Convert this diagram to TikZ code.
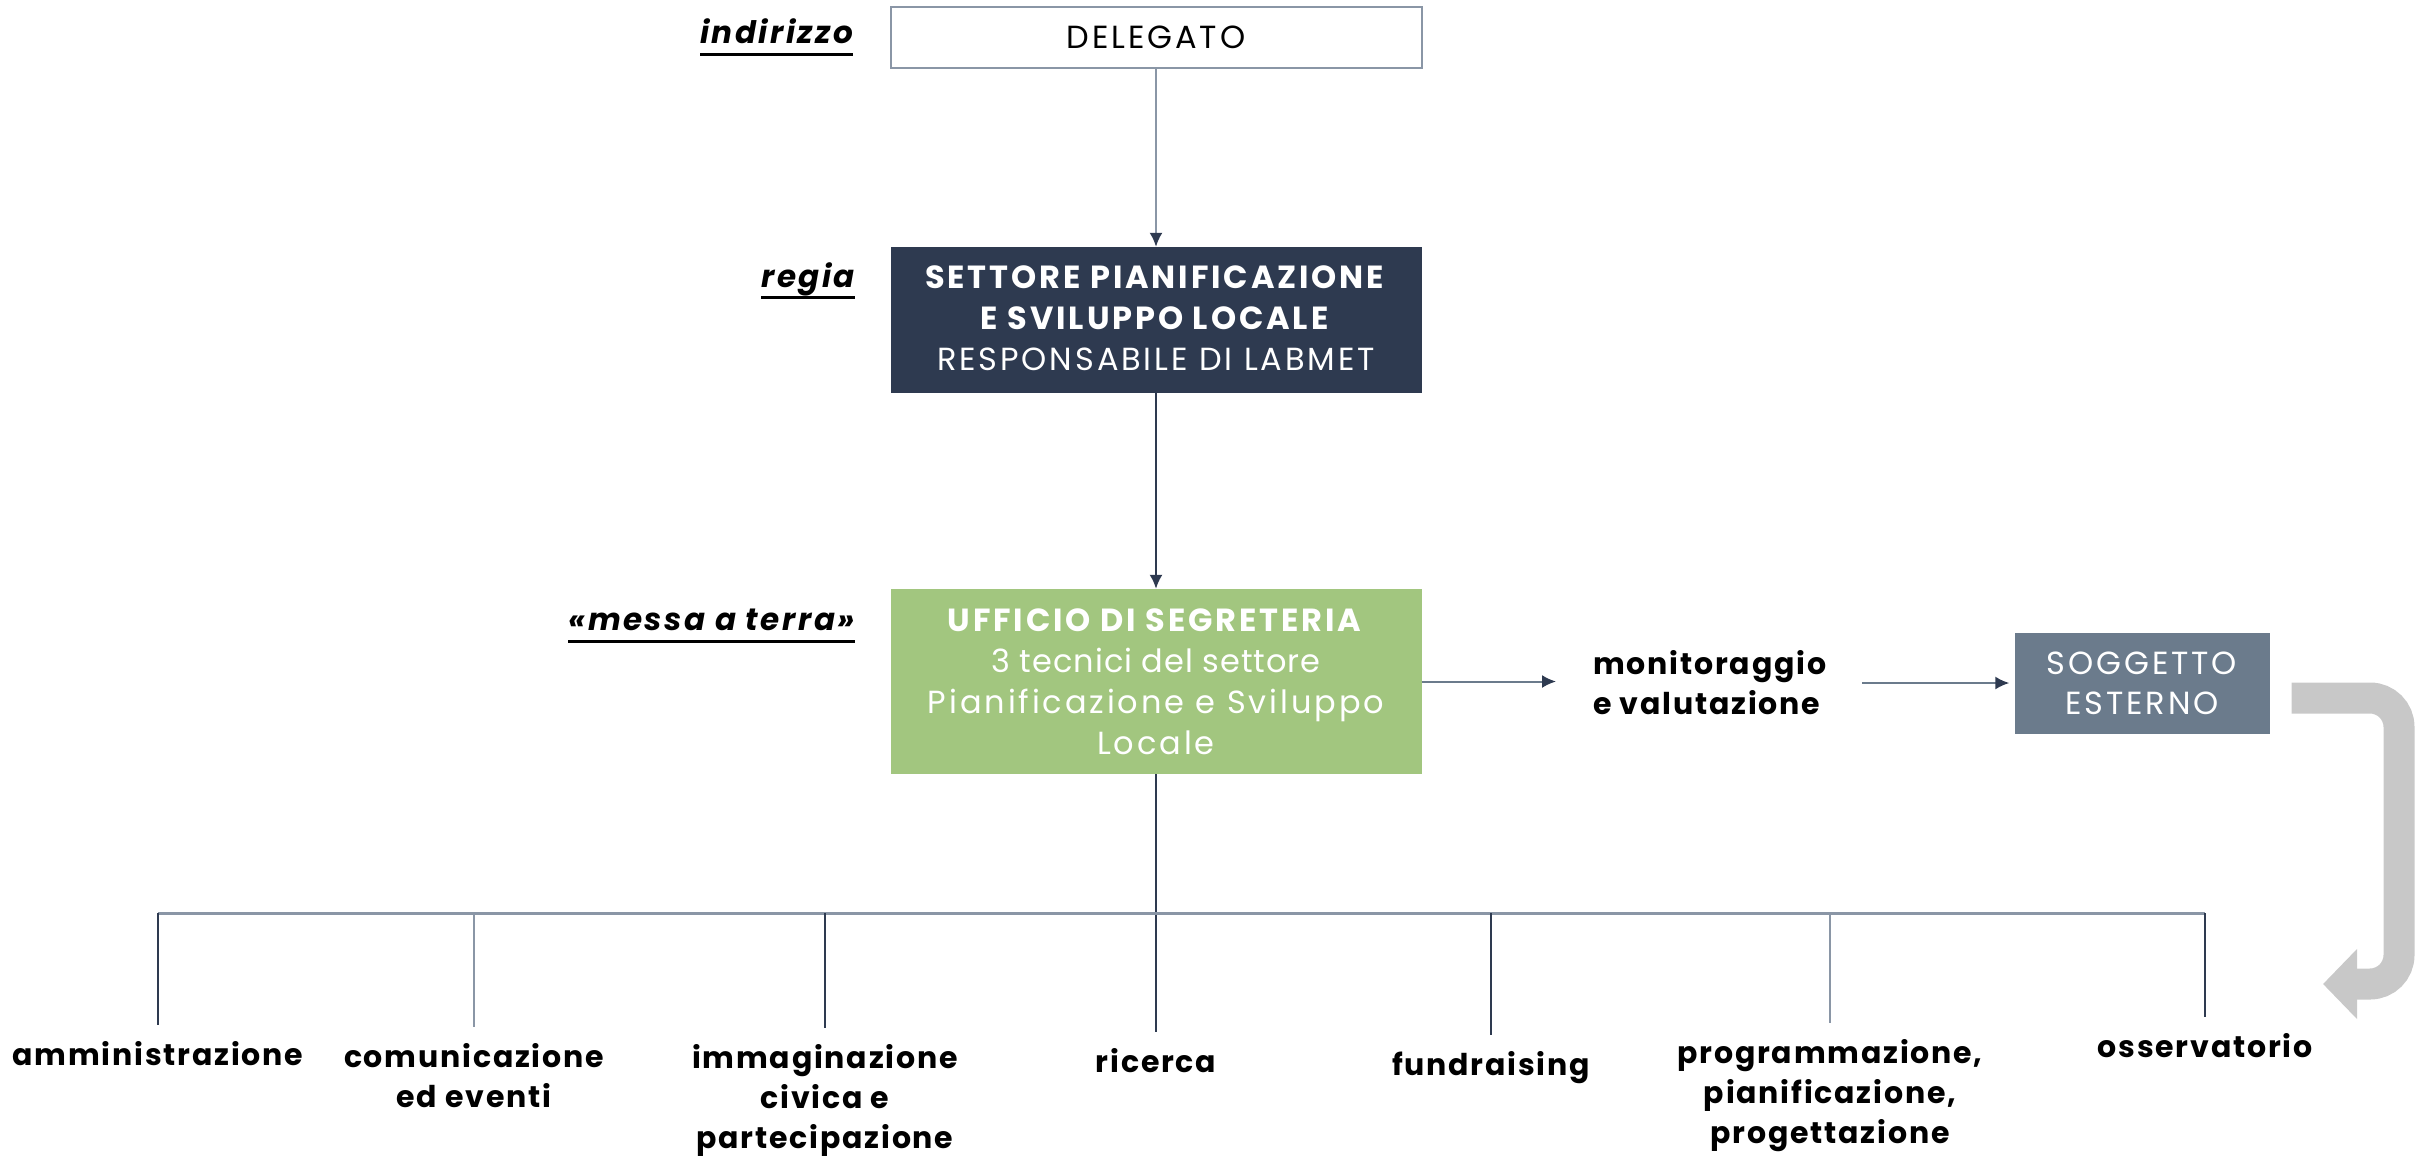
\documentclass[tikz,border=0pt]{standalone}
\usepackage{fontspec}
\setmainfont{Poppins}
\usetikzlibrary{arrows.meta,positioning}
\definecolor{navy}{HTML}{2E3A50}
\definecolor{wiregrey}{HTML}{8A96A6}
\definecolor{leafgreen}{HTML}{A2C67F}
\definecolor{slate}{HTML}{6B7B8C}
\definecolor{bandgrey}{HTML}{C8C8C8}
\newcommand\levelrule[1]{\setbox0\hbox{#1}\rlap{\raisebox{-12pt}{\rule{\wd0}{3pt}}}\box0}
\newcommand\tracked[1]{\addfontfeature{LetterSpace=#1}}

\begin{document}
\begin{tikzpicture}[x=1pt,y=-1pt]
  \tikzstyle{office}=[minimum width=531pt,inner sep=0pt,align=center,text=white,font=\fontsize{32}{41}\selectfont\tracked{9}]
  \tikzstyle{tier}=[anchor=east,inner sep=0pt,font=\fontsize{31}{34}\selectfont\bfseries\itshape\tracked{8}]
  \tikzstyle{task}=[anchor=north,align=center,inner sep=16pt,font=\fontsize{30}{40}\selectfont\bfseries\tracked{6}]
  \tikzstyle{wire}=[line width=2pt,draw=navy]
  \tikzstyle{flow}=[line width=2pt,-{Latex[length=14pt,width=13pt,color=navy]}]
  \useasboundingbox (0,0) rectangle (2425,1160);

  % uffici
  \node (del) [office,draw=wiregrey,line width=2pt,text=black,minimum height=61pt] at (1156,37.5) {DELEGATO};
  \node (sett) [office,fill=navy,minimum height=146pt,text depth=4pt] at (1156,320) {\textbf{SETTORE PIANIFICAZIONE}\\\textbf{E SVILUPPO LOCALE}\\RESPONSABILE DI LABMET};
  \node (uff) [office,fill=leafgreen,minimum height=185pt] at (1156,681.5) {\textbf{UFFICIO DI SEGRETERIA}\\\tracked{3}3 tecnici del settore\\Pianificazione e Sviluppo\\Locale};

  % livelli
  \node (ind) [tier,left=36pt of del] {\levelrule{indirizzo}};
  \node (reg) [tier] at (855,281) {\levelrule{regia}};
  \node (mat) [tier] at (855,626) {\levelrule{«messa a terra»}};

  \node (mon) [anchor=west,align=left,inner sep=0pt,font=\fontsize{30}{40}\selectfont\bfseries\tracked{6}] at (1593,683) {monitoraggio\\e valutazione};
  \node (sog) [office,fill=slate,minimum width=255pt,minimum height=101pt,font=\fontsize{32}{40}\selectfont\tracked{9}] at (2142,683) {SOGGETTO\\ESTERNO};

  % compiti
  \coordinate (bus) at (1156,913);
  \node (amm) [task] at (158,1025) {amministrazione};
  \node (com) [task] at (474,1027) {comunicazione\\ed eventi};
  \node (imm) [task] at (825,1028) {immaginazione\\civica e\\partecipazione};
  \node (ric) [task] at (1156,1032) {ricerca};
  \node (fun) [task] at (1491,1035) {fundraising};
  \node (pro) [task] at (1830,1023) {programmazione,\\pianificazione,\\progettazione};
  \node (oss) [task] at (2205,1017) {osservatorio};

  \draw [flow,draw=wiregrey] (del) -- (sett);
  \draw [flow,draw=navy] (sett) -- (uff);
  \draw [wire] (uff) -- (ric);
  \draw [line width=3pt,wiregrey] (amm.north |- bus) -- (oss.north |- bus);
  \foreach \t in {amm,imm,fun,oss}
    \draw [wire] (\t.north |- bus) -- (\t.north);
  \foreach \t in {com,pro}
    \draw [wire,draw=wiregrey] (\t.north |- bus) -- (\t.north);
  \draw [flow,draw=slate,shorten >=37pt] (uff.east) -- (uff.east -| mon.west);
  \draw [flow,draw=slate,shorten <=36pt,shorten >=5pt] (mon.east |- sog.west) -- (sog.west);

  % ritorno all'osservatorio
  \draw [line width=31pt,bandgrey,-{Triangle[length=34pt,width=68pt]}] ([xshift=22pt,yshift=-15pt]sog.east) -- (2370,698) to[out=0,in=90] (2399,727) -- (2399,955) to[out=-90,in=0] (2370,984) -- (2323,984);
\end{tikzpicture}
\end{document}
